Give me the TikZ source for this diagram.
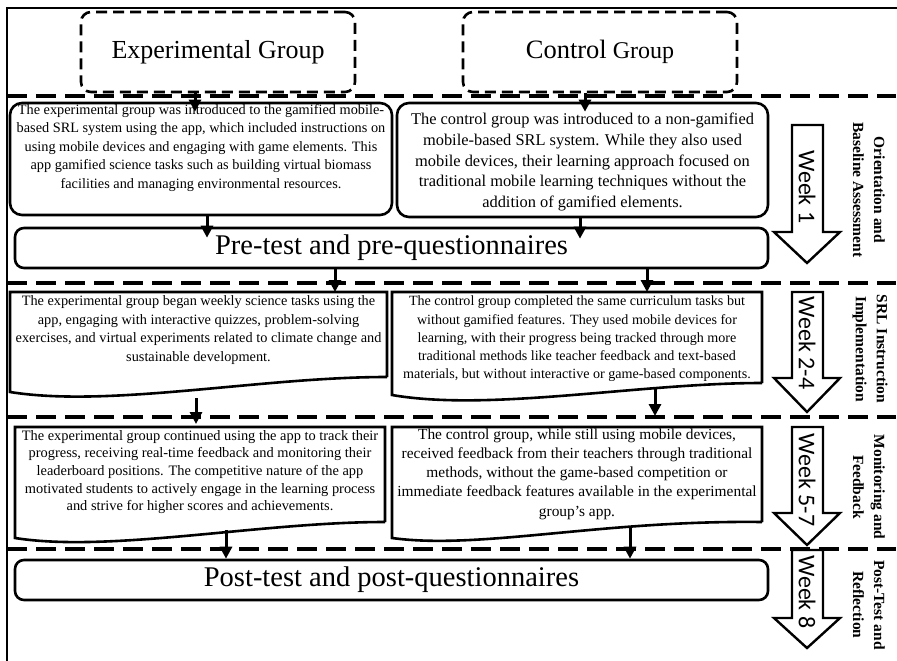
\documentclass[tikz,border=0pt]{standalone}
\usepackage{fontspec}
\setmainfont{Liberation Serif}
\newfontfamily\weekfont{Carlito}
\usetikzlibrary{arrows.meta}
\begin{document}
\begin{tikzpicture}[x=1pt,y=-1pt,
  conn/.style={line width=3pt,-{Triangle[length=12pt,width=12pt]}},
  sepline/.style={line width=3.2pt,dash pattern=on 20pt off 9pt},
  grpbox/.style={draw,line width=2.6pt,dash pattern=on 11pt off 6pt,rounded corners=10pt,inner sep=0pt},
  rbox/.style={draw,line width=2.6pt,rounded corners=12pt,inner sep=0pt},
  bigbox/.style={draw,line width=2.6pt,rounded corners=9pt,inner sep=0pt,font=\fontsize{28.5}{32}\selectfont},
  holder/.style={inner sep=0pt,outer sep=0pt},
  bodyA/.style={align=center,inner sep=0pt,font=\fontsize{14.3}{18.5}\selectfont},
  docline/.style={line width=2.6pt},
  weekarrow/.style={draw,line width=2.4pt,fill=white,line join=miter},
  weektext/.style={font=\weekfont\fontsize{24}{24}\selectfont,rotate=-90,inner sep=0pt},
  phase/.style={font=\bfseries\fontsize{15.5}{21}\selectfont,align=center,rotate=-90,inner sep=0pt}]

\useasboundingbox (0,0) rectangle (897,661);

% frame
\draw[line width=2.8pt] (897,8) -- (7,8) -- (7,661);

% separators
\foreach \yy in {96,283,417,549} \draw[sepline] (7,\yy) -- (896,\yy);

% group boxes
\node[grpbox,minimum width=274pt,minimum height=80pt,font=\fontsize{26}{30}\selectfont] (eg) at (218,52) {Experimental Group};
\node[grpbox,minimum width=274pt,minimum height=80pt] (cg) at (600,52) {{\fontsize{26.5}{30}\selectfont Control}\hspace{6pt}{\fontsize{24}{30}\selectfont Group}};

% week 1 boxes
\node[rbox,minimum width=382pt,minimum height=112pt] (e1) at (201,159) {};
\node[bodyA] (e1t) at (201,148) {The experimental group was introduced to the gamified mobile-\\based SRL system using the app, which included instructions on\\using mobile devices and engaging with game elements. This\\app gamified science tasks such as building virtual biomass\\facilities and managing environmental resources.};
\node[rbox,minimum width=371pt,minimum height=114pt] (c1) at (582.5,160) {};
\node[bodyA,font=\fontsize{16.4}{20.7}\selectfont] (c1t) at (582.5,162) {The control group was introduced to a non-gamified\\mobile-based SRL system. While they also used\\mobile devices, their learning approach focused on\\traditional mobile learning techniques without the\\addition of gamified elements.};

% pre-test
\node[bigbox,minimum width=753pt,minimum height=40pt] (pre) at (391.5,248) {Pre-test and pre-questionnaires};

% week 2-4 document boxes
\node[holder,minimum width=377pt,minimum height=85pt] (e2) at (198.5,334.5) {};
\draw[docline] (387,377) -- (387,292) -- (10,292) -- (10,392) .. controls (110,408) and (260,377) .. (387,377);
\node[bodyA] (e2t) at (198.5,330) {The experimental group began weekly science tasks using the\\app, engaging with interactive quizzes, problem-solving\\exercises, and virtual experiments related to climate change and\\sustainable development.};
\node[holder,minimum width=370pt,minimum height=91pt] (c2) at (577,337.5) {};
\draw[docline] (762,383) -- (762,292) -- (392,292) -- (392,395) .. controls (490,412) and (640,383) .. (762,383);
\node[bodyA,font=\fontsize{14.1}{18.3}\selectfont] (c2t) at (577,339) {The control group completed the same curriculum tasks but\\without gamified features. They used mobile devices for\\learning, with their progress being tracked through more\\traditional methods like teacher feedback and text-based\\materials, but without interactive or game-based components.};

% week 5-7 document boxes
\node[holder,minimum width=370pt,minimum height=95pt] (e3) at (200,474.5) {};
\draw[docline] (385,522) -- (385,427) -- (15,427) -- (15,538) .. controls (110,553) and (260,522) .. (385,522);
\node[bodyA,font=\fontsize{14.4}{17.6}\selectfont] (e3t) at (200,472) {The experimental group continued using the app to track their\\progress, receiving real-time feedback and monitoring their\\leaderboard positions. The competitive nature of the app\\motivated students to actively engage in the learning process\\and strive for higher scores and achievements.};
\node[holder,minimum width=370pt,minimum height=95pt] (c3) at (577,474.5) {};
\draw[docline] (762,522) -- (762,427) -- (392,427) -- (392,538) .. controls (480,550) and (600,520) .. (762,522);
\node[bodyA,font=\fontsize{15.4}{19.3}\selectfont] (c3t) at (577,474) {The control group, while still using mobile devices,\\received feedback from their teachers through traditional\\methods, without the game-based competition or\\immediate feedback features available in the experimental\\group's app.};

% post-test
\node[bigbox,minimum width=753pt,minimum height=40pt] (post) at (391.5,580) {Post-test and post-questionnaires};

% connectors
\draw[conn] ([xshift=-23pt]eg.south) -- ([xshift=-6pt,yshift=-10pt]e1.north);
\draw[conn] ([xshift=-15pt]cg.south) -- ([xshift=2.5pt,yshift=-10pt]c1.north);
\draw[conn] ([xshift=6pt]e1.south) -- ([xshift=-184.5pt,yshift=-11pt]pre.north);
\draw[conn] ([xshift=-2.5pt]c1.south) -- ([xshift=188.5pt,yshift=-12pt]pre.north);
\draw[conn] ([xshift=-56.5pt]pre.south) -- ([xshift=136.5pt]e2.north);
\draw[conn] ([xshift=255.5pt]pre.south) -- ([xshift=70pt]c2.north);
\coordinate (e2out) at (196,398);
\draw[conn] (e2out) -- ([xshift=-4pt,yshift=3pt]e3.north);
\coordinate (c2out) at (655,389);
\coordinate (c2in) at (655,416);
\draw[conn] (c2out) -- (c2in);
\coordinate (e3out) at (226,530);
\draw[conn] (e3out) -- ([xshift=-165.5pt]post.north);
\coordinate (c3out) at (630,527);
\draw[conn] (c3out) -- ([xshift=238.5pt]post.north);

% week arrows
\draw[weekarrow] (792,125) -- (823,125) -- (823,232) -- (840,232) -- (807,263) -- (774,232) -- (792,232) -- cycle;
\draw[weekarrow] (792,292) -- (823,292) -- (823,378) -- (840,378) -- (807,412) -- (774,378) -- (792,378) -- cycle;
\draw[weekarrow] (792,427) -- (823,427) -- (823,513) -- (840,513) -- (807,545) -- (774,513) -- (792,513) -- cycle;
\draw[weekarrow] (792,550) -- (823,550) -- (823,618) -- (840,618) -- (807,648) -- (774,618) -- (792,618) -- cycle;
\node[weektext] (w1) at (807,187) {Week 1};
\node[weektext] (w2) at (807,343) {Week 2-4};
\node[weektext] (w3) at (807,480) {Week 5-7};
\node[weektext] (w4) at (807,592) {Week 8};

% phase labels
\node[phase] (p1) at (869,190) {Orientation and\\Baseline Assessment};
\node[phase] (p2) at (870,349) {SRL Instruction\\Implementation};
\node[phase] (p3) at (869,487) {Monitoring and\\Feedback};
\node[phase] (p4) at (869,605) {Post-Test and\\Reflection};
\end{tikzpicture}
\end{document}
